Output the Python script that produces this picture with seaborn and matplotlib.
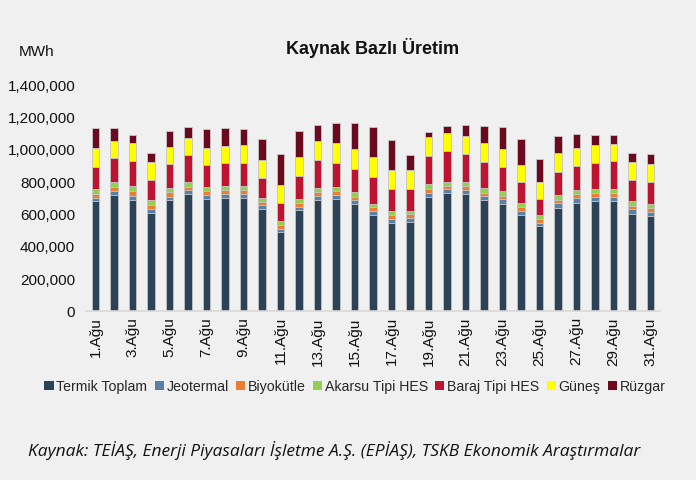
import matplotlib
matplotlib.use("Agg")
import matplotlib.pyplot as plt
import seaborn as sns
import numpy as np
import pandas as pd
from matplotlib.patches import Patch
from matplotlib.ticker import FuncFormatter

days = [f"{d}.Ağu" for d in range(1, 32)]

termik = [680, 717, 686, 606, 686, 721, 692, 698, 698, 630, 484, 622, 686, 692, 661, 593,
          544, 550, 705, 725, 721, 686, 661, 591, 521, 637, 667, 680, 676, 599, 585]
jeotermal = [17, 25, 25, 25, 19, 23, 25, 21, 23, 23, 23, 21, 23, 23, 21, 23,
             25, 23, 25, 25, 23, 25, 27, 25, 23, 27, 29, 23, 27, 27, 23]
biyokutle = [25, 21, 29, 23, 29, 21, 23, 25, 23, 21, 25, 25, 25, 25, 23, 25,
             25, 23, 25, 23, 27, 19, 23, 25, 25, 23, 25, 23, 25, 23, 27]
akarsu = [33, 31, 31, 27, 25, 29, 25, 25, 25, 21, 21, 21, 25, 25, 27, 19,
          25, 23, 25, 25, 27, 29, 29, 25, 21, 27, 27, 29, 25, 29, 27]
baraj = [136, 150, 155, 126, 146, 169, 136, 146, 146, 126, 113, 146, 171, 150, 146, 167,
         132, 132, 173, 190, 173, 161, 148, 132, 101, 146, 148, 157, 169, 128, 136]
gunes = [115, 107, 109, 111, 105, 103, 103, 105, 109, 109, 113, 117, 117, 124, 124, 122,
         119, 119, 119, 113, 109, 119, 113, 105, 103, 113, 109, 109, 109, 115, 109]
ruzgar = [121, 76, 49, 58, 99, 68, 119, 107, 99, 134, 190, 157, 101, 119, 157, 185,
          183, 91, 35, 39, 68, 105, 132, 155, 142, 105, 84, 66, 52, 54, 64]

series_names = ["Termik Toplam", "Jeotermal", "Biyokütle", "Akarsu Tipi HES",
                "Baraj Tipi HES", "Güneş", "Rüzgar"]
series_vals = [termik, jeotermal, biyokutle, akarsu, baraj, gunes, ruzgar]
colors = ["#2B4257", "#5B80A8", "#ED7D31", "#92D050", "#BE1432", "#FFFF00", "#6B0A1E"]

bg = "#F0F0F0"
sns.set_theme(style="white")
plt.rcParams["font.family"] = ["Liberation Sans", "DejaVu Sans"]

fig = plt.figure(figsize=(6.96, 4.81), dpi=100, facecolor=bg)
ax = fig.add_axes([0.124, 0.352, 0.824, 0.471], facecolor=bg)

data = np.array(series_vals, dtype=float) * 1000
cum = np.cumsum(data, axis=0)
df = pd.DataFrame({"day": days})
for i in range(len(series_names) - 1, -1, -1):
    df["v"] = cum[i]
    sns.barplot(data=df, x="day", y="v", color=colors[i], width=0.42,
                edgecolor="#C8C8C8", linewidth=0.6, saturation=1, ax=ax, errorbar=None)

ax.set_ylim(0, 1400000)
ax.set_xlim(-0.5, 30.5)
ax.set_yticks(np.arange(0, 1400001, 200000))
ax.yaxis.set_major_formatter(FuncFormatter(lambda v, p: f"{int(v):,}"))
ax.set_xticks(range(0, 31, 2))
ax.set_xticklabels([days[i] for i in range(0, 31, 2)], rotation=90)
ax.tick_params(axis="y", labelsize=11, pad=8, length=0, colors="#111111")
ax.tick_params(axis="x", labelsize=11, pad=4, length=0, colors="#111111")
ax.set_xlabel("")
ax.set_ylabel("")
for s in ["top", "right", "left"]:
    ax.spines[s].set_visible(False)
ax.spines["bottom"].set_color("#D9D9D9")
ax.spines["bottom"].set_linewidth(1.2)

fig.text(0.535, 0.90, "Kaynak Bazlı Üretim", ha="center", va="center",
         fontsize=13, fontweight="bold", color="#111111")
fig.text(0.053, 0.892, "MWh", ha="center", va="center", fontsize=11, color="#111111")

handles = [Patch(facecolor=c, edgecolor="none", label=n) for n, c in zip(series_names, colors)]
fig.legend(handles=handles, loc="center", bbox_to_anchor=(0.51, 0.195), ncol=7,
           frameon=False, fontsize=10.2, handlelength=0.65, handleheight=0.65,
           handletextpad=0.2, columnspacing=0.5, borderaxespad=0)

fig.text(0.04, 0.063, "Kaynak: TEİAŞ, Enerji Piyasaları İşletme A.Ş. (EPİAŞ), TSKB Ekonomik Araştırmalar",
         ha="left", va="center", fontsize=12.5, style="italic", color="#111111",
         family=["Open Sans", "DejaVu Sans"])

fig.savefig("out.png", dpi=100, facecolor=bg)
